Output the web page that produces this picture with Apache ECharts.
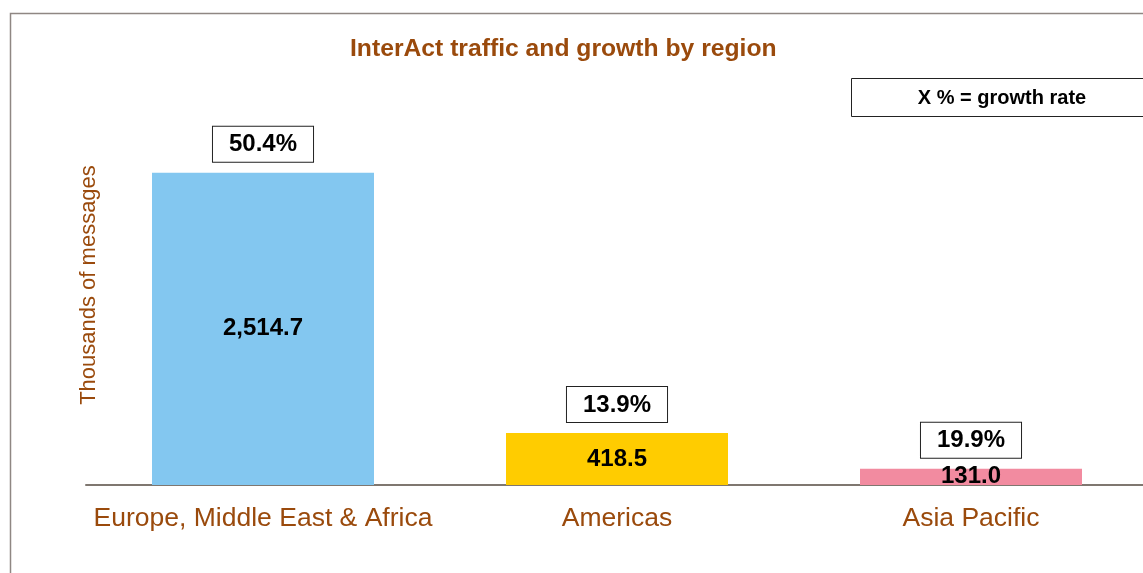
<!DOCTYPE html>
<html>
<head>
<meta charset="utf-8">
<script src="https://cdn.jsdelivr.net/npm/echarts@6/dist/echarts.min.js"></script>
<style>html,body{margin:0;padding:0;background:#fff;overflow:hidden}#chart{width:1150px;height:573px}</style>
</head>
<body>
<div id="chart"></div>
<script>
var categories = ['Europe, Middle East & Africa', 'Americas', 'Asia Pacific'];
var traffic = [2514.7, 418.5, 131.0];
var growth = ['50.4%', '13.9%', '19.9%'];
var barColors = ['#83c7f0', '#ffcc00', '#f28ba0'];
var titleText = 'InterAct traffic and growth by region';
var yName = 'Thousands of messages';
var noteText = 'X % = growth rate';

var FONT = '"Liberation Sans", Arial, sans-serif';
var BROWN = '#9a4a0c';

var chart = echarts.init(document.getElementById('chart'), null, {renderer: 'canvas'});
chart.setOption({
  animation: false,
  backgroundColor: '#fff',
  title: {
    text: titleText,
    left: 345, top: 32,
    textStyle: {fontFamily: FONT, fontSize: 24.7, fontWeight: 'bold', color: BROWN}
  },
  grid: {left: 86, top: 100, width: 1062, bottom: 88, containLabel: false},
  xAxis: {
    type: 'category',
    data: categories,
    axisLine: {show: true, lineStyle: {color: '#7f7770', width: 2}},
    axisTick: {show: false},
    axisLabel: {fontFamily: FONT, fontSize: 26.5, color: BROWN, margin: 20, interval: 0}
  },
  yAxis: {
    type: 'value', min: 0, max: 3100, show: false
  },
  series: [
    {
      type: 'bar',
      barWidth: 222,
      barGap: '-100%',
      data: traffic.map(function (v, i) { return {value: v, itemStyle: {color: barColors[i]}}; }),
      label: {
        show: true, position: 'inside',
        fontFamily: FONT, fontSize: 24, fontWeight: 'bold', color: '#000',
        formatter: function (p) { return p.value.toLocaleString('en-US', {minimumFractionDigits: 1, maximumFractionDigits: 1}); }
      },
      z: 2
    },
    {
      type: 'bar',
      barWidth: 222,
      barGap: '-100%',
      silent: true,
      data: traffic,
      itemStyle: {color: 'rgba(0,0,0,0)'},
      label: {
        show: true, position: 'top', distance: 11,
        fontFamily: FONT, fontSize: 24, fontWeight: 'bold', color: '#000',
        backgroundColor: '#fff', borderColor: '#222', borderWidth: 1,
        padding: [5, 16, 4, 16], lineHeight: 26,
        formatter: function (p) { return growth[p.dataIndex]; }
      },
      z: 3
    }
  ],
  graphic: [
    {
      type: 'rect', silent: true, z: -1,
      shape: {x: 10.5, y: 13.5, width: 1200, height: 600},
      style: {fill: null, stroke: '#8f8783', lineWidth: 1.5}
    },
    {
      type: 'rect', silent: true,
      shape: {x: 851.5, y: 78.5, width: 302, height: 38},
      style: {fill: '#fff', stroke: '#222', lineWidth: 1}
    },
    {
      type: 'text', silent: true,
      x: 1002, y: 98,
      style: {text: noteText, fontFamily: FONT, fontSize: 20, fontWeight: 'bold', fill: '#000', textAlign: 'center', textVerticalAlign: 'middle'}
    },
    {
      type: 'text', silent: true,
      x: 89, y: 285, rotation: Math.PI / 2,
      style: {text: yName, fontFamily: FONT, fontSize: 22, fill: BROWN, textAlign: 'center', textVerticalAlign: 'middle'}
    }
  ]
});
</script>
</body>
</html>
